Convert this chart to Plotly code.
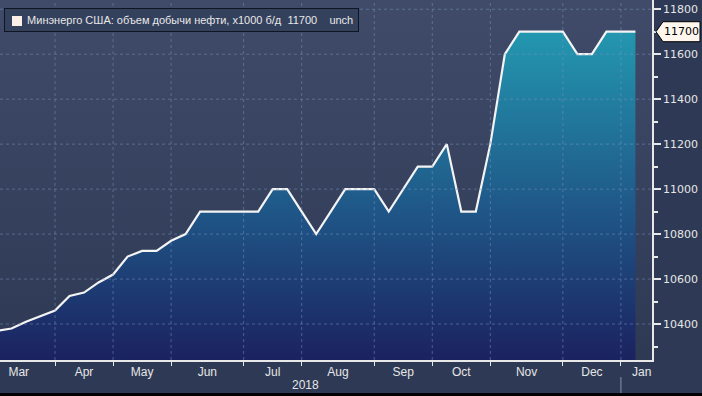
import pandas as pd
import plotly.graph_objects as go

# ---------------- data ----------------
week_dates = [
    "2018-03-02", "2018-03-09", "2018-03-16", "2018-03-23", "2018-03-30",
    "2018-04-06", "2018-04-13", "2018-04-20", "2018-04-27",
    "2018-05-04", "2018-05-11", "2018-05-18", "2018-05-25",
    "2018-06-01", "2018-06-08", "2018-06-15", "2018-06-22", "2018-06-29",
    "2018-07-06", "2018-07-13", "2018-07-20", "2018-07-27",
    "2018-08-03", "2018-08-10", "2018-08-17", "2018-08-24", "2018-08-31",
    "2018-09-07", "2018-09-14", "2018-09-21", "2018-09-28",
    "2018-10-05", "2018-10-12", "2018-10-19", "2018-10-26",
    "2018-11-02", "2018-11-09", "2018-11-16", "2018-11-23", "2018-11-30",
    "2018-12-07", "2018-12-14", "2018-12-21", "2018-12-28",
    "2019-01-04",
]
production = [
    10370, 10380, 10410, 10435, 10460,
    10525, 10540, 10585, 10620,
    10700, 10725, 10725, 10770,
    10800, 10900, 10900, 10900, 10900,
    10900, 11000, 11000, 10900,
    10800, 10900, 11000, 11000, 11000,
    10900, 11000, 11100, 11100,
    11200, 10900, 10900, 11200,
    11600, 11700, 11700, 11700, 11700,
    11600, 11600, 11700, 11700,
    11700,
]
# last weekly observation of each month (month separators)
month_ends = ["2018-02-23", "2018-03-30", "2018-04-27", "2018-05-25", "2018-06-29",
              "2018-07-27", "2018-08-31", "2018-09-28", "2018-10-26",
              "2018-11-30", "2018-12-28"]
month_labels = ["Mar", "Apr", "May", "Jun", "Jul", "Aug", "Sep", "Oct", "Nov", "Dec", "Jan"]
jan_label_date = "2019-01-07"
y_tick_vals = [10400, 10600, 10800, 11000, 11200, 11400, 11600, 11800]
series_name = "Минэнерго США: объем добычи нефти, x1000 б/д"
last_value = production[-1]
change_text = "unch"
year_label = "2018"

# ---------------- layout constants ----------------
x_range = ["2018-03-03 11:00", "2019-01-12"]
y_range = [10240, 11841]
W, H = 702, 396
ML, MR, MT, MB = 0, 50, 0, 36
PW, PH = W - ML - MR, H - MT - MB

me = pd.to_datetime(month_ends)
label_dates = [me[i] + (me[i + 1] - me[i]) / 2 for i in range(len(me) - 1)]
label_dates.append(pd.Timestamp(jan_label_date))
boundaries = month_ends[1:]

fig = go.Figure()

# plot-area background gradient
fig.add_trace(go.Scatter(
    x=[x_range[0], x_range[1], x_range[1], x_range[0], x_range[0]],
    y=[y_range[0], y_range[0], y_range[1], y_range[1], y_range[0]],
    mode="lines", line=dict(width=0), fill="toself",
    fillgradient=dict(type="vertical", colorscale=[[0, "#2e3954"], [1, "#3f4b69"]],
                      start=y_range[0], stop=y_range[1]),
    hoverinfo="skip", showlegend=False,
))

# main series
fig.add_trace(go.Scatter(
    x=week_dates, y=production, mode="lines",
    line=dict(color="#f4f4f4", width=2.2),
    fill="tozeroy",
    fillgradient=dict(type="vertical",
                      colorscale=[[0, "#1b2260"], [0.45, "#1f5687"], [1, "#2397b0"]],
                      start=y_range[0], stop=11700),
    name=series_name, showlegend=False,
))

shapes = []
grid_col = "rgba(125,150,190,0.5)"
for b in boundaries:
    shapes.append(dict(type="line", xref="x", yref="paper", x0=b, x1=b, y0=0, y1=1,
                       line=dict(color=grid_col, width=1, dash="dot"), layer="above"))
for v in y_tick_vals:
    shapes.append(dict(type="line", xref="paper", yref="y", x0=0, x1=1, y0=v, y1=v,
                       line=dict(color=grid_col, width=1, dash="dot"), layer="above"))
# year separator under axis
shapes.append(dict(type="line", xref="x", yref="paper", x0=boundaries[-1], x1=boundaries[-1],
                   y0=-17 / PH, y1=-33 / PH, line=dict(color="#8593ab", width=1)))
# black strip at bottom
shapes.append(dict(type="rect", xref="paper", yref="paper", x0=-0.01, x1=W / PW + 0.01,
                   y0=-MB / PH - 0.01, y1=-33 / PH, fillcolor="#000000", line=dict(width=0)))
# last-value tag
shapes.append(dict(type="path", xref="paper", yref="y", xsizemode="pixel", ysizemode="pixel",
                   xanchor=1, yanchor=last_value,
                   path="M 4,0 L 11,-10 L 48,-10 L 48,10 L 11,10 Z",
                   fillcolor="#fff6ee", line=dict(color="#000000", width=1)))

annotations = [
    dict(xref="paper", yref="y", x=1, y=last_value, xshift=29, text=str(last_value),
         showarrow=False, font=dict(family="DejaVu Sans", size=11, color="#000000"),
         xanchor="center", yanchor="middle"),
    dict(xref="paper", yref="paper", x=305 / PW, y=-25 / PH, text=year_label, showarrow=False,
         font=dict(family="Liberation Sans", size=12, color="#e6e6e6"),
         xanchor="center", yanchor="middle"),
    dict(xref="paper", yref="paper", x=4 / PW, y=1 - 8 / PH, xanchor="left", yanchor="top",
         text=("\u2003\u00a0\u00a0" + series_name +
               "\u00a0\u00a0" + str(last_value) + "\u00a0\u00a0\u00a0\u00a0" + change_text),
         showarrow=False, align="left",
         font=dict(family="Liberation Sans", size=11, color="#e8e8e8"),
         bgcolor="#34415c", bordercolor="#0f1522", borderwidth=1, borderpad=5),
]

fig.update_layout(
    width=W, height=H,
    margin=dict(l=ML, r=MR, t=MT, b=MB),
    paper_bgcolor="#2e3a55", plot_bgcolor="#2e3a55",
    shapes=shapes, annotations=annotations,
    showlegend=False,
    xaxis=dict(
        type="date", range=x_range, showgrid=False, zeroline=False,
        showline=True, linecolor="#e8e8e8", linewidth=1.5,
        tickmode="array", tickvals=label_dates, ticktext=month_labels,
        ticks="", tickfont=dict(family="Liberation Sans", size=12, color="#e6e6e6"),
        minor=dict(tickmode="array", tickvals=boundaries, ticks="outside", ticklen=4,
                   tickcolor="#e8e8e8", tickwidth=1, showgrid=False),
        fixedrange=True,
    ),
    yaxis=dict(
        side="right", range=y_range, showgrid=False, zeroline=False,
        showline=True, linecolor="#e8e8e8", linewidth=1.5,
        tickmode="array", tickvals=y_tick_vals, tickformat="d",
        ticks="outside", ticklen=7, tickwidth=2, tickcolor="#e8e8e8",
        tickfont=dict(family="DejaVu Sans", size=11, color="#e6e6e6"),
        minor=dict(dtick=100, tick0=10300, ticks="outside", ticklen=4, tickcolor="#e8e8e8",
                   showgrid=False),
        fixedrange=True,
    ),
)

# legend marker square
fig.add_annotation(xref="paper", yref="paper", x=12 / PW, y=1 - 16 / PH,
                   xanchor="left", yanchor="top", text="", showarrow=False,
                   width=10, height=10, bgcolor="#fcefe8", borderpad=0, borderwidth=0)

fig.write_html("out.html", config={"displayModeBar": False},
               post_script="document.body.style.margin='0px';")
